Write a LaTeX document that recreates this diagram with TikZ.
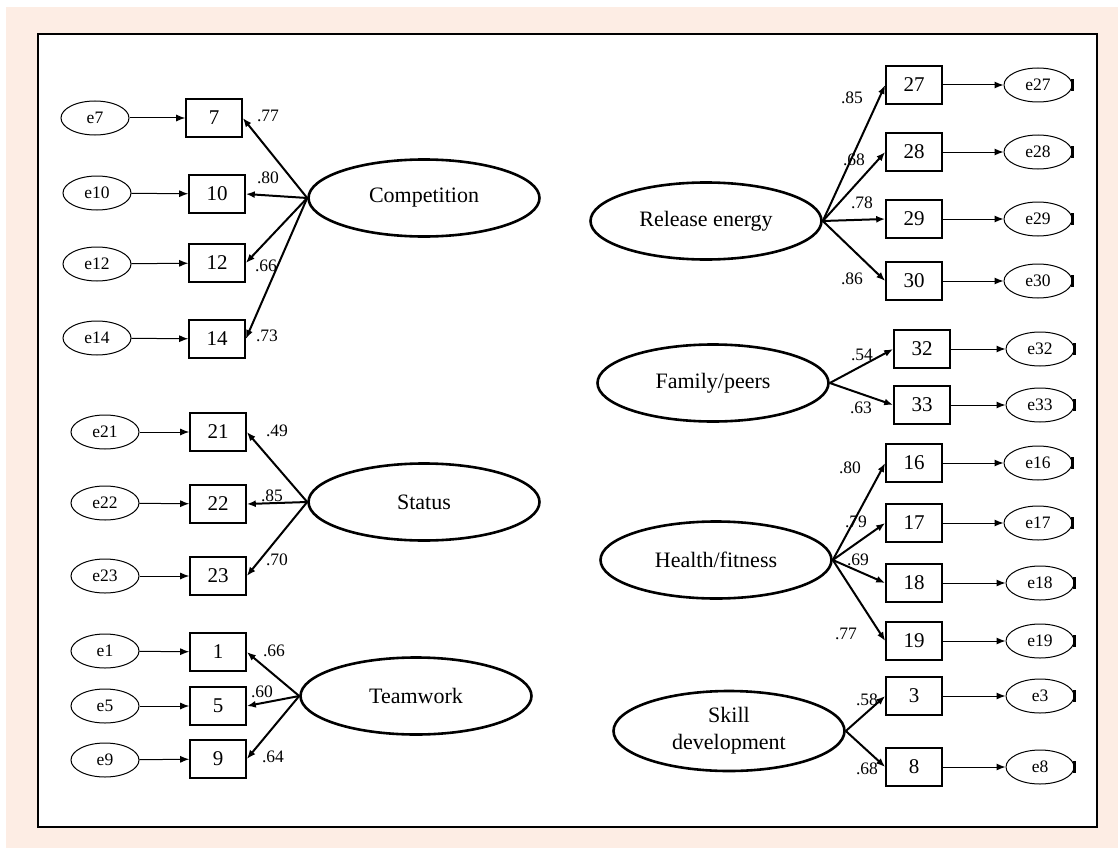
\documentclass[tikz,border=0pt]{standalone}
\usepackage{fontspec}
\setmainfont{Liberation Serif}
\usetikzlibrary{shapes.geometric,arrows.meta}
\definecolor{peach}{RGB}{253,237,228}

\tikzstyle{item}=[draw,line width=1.6pt,minimum width=56pt,minimum height=38pt,inner sep=0pt,font=\fontsize{21}{24}\selectfont]
\tikzstyle{err}=[draw,ellipse,line width=1pt,minimum width=68pt,minimum height=34pt,inner sep=0pt,font=\fontsize{17.5}{20}\selectfont]
\tikzstyle{factor}=[draw,ellipse,line width=2.6pt,minimum width=231pt,minimum height=77pt,inner sep=0pt,align=center,font=\fontsize{22}{27}\selectfont]
\tikzstyle{load}=[line width=2pt,-{Latex[length=9pt,width=7pt]}]
\tikzstyle{res}=[line width=1pt,-{Latex[length=9pt,width=7pt]}]
\tikzstyle{coef}=[inner sep=0pt,font=\fontsize{17.5}{19}\selectfont]
\tikzstyle{stub}=[line width=2.4pt]

\begin{document}
\begin{tikzpicture}[x=1pt,y=-1pt]
    \useasboundingbox (0,0) rectangle (1118,848);
    \fill[white] (0,0) rectangle (1118,848);
    \fill[peach] (6,7) rectangle (1118,848);
    \draw[line width=2.4pt,fill=white] (38,34) rectangle (1097,827);

    % left side
    \node (comp)[factor] at (424,198) {Competition};
    \node (v7)[item] at (214,118) {7};
    \node (v10)[item] at (217,194) {10};
    \node (v12)[item] at (217,263) {12};
    \node (v14)[item] at (217,339) {14};
    \node (e7)[err] at (95,118) {e7};
    \node (e10)[err] at (97,193) {e10};
    \node (e12)[err] at (97,264) {e12};
    \node (e14)[err] at (97,338) {e14};

    \node (stat)[factor] at (424,502) {Status};
    \node (v21)[item] at (218,432) {21};
    \node (v22)[item] at (218,504) {22};
    \node (v23)[item] at (218,576) {23};
    \node (e21)[err] at (105,432) {e21};
    \node (e22)[err] at (105,503) {e22};
    \node (e23)[err] at (105,576) {e23};

    \node (team)[factor] at (416,696) {Teamwork};
    \node (v1)[item] at (218,652) {1};
    \node (v5)[item] at (218,706) {5};
    \node (v9)[item] at (218,759) {9};
    \node (e1)[err] at (105,651) {e1};
    \node (e5)[err] at (105,706) {e5};
    \node (e9)[err] at (105,760) {e9};

    % right side
    \node (rel)[factor] at (706,221) {Release energy};
    \node (v27)[item] at (914,85) {27};
    \node (v28)[item] at (914,152) {28};
    \node (v29)[item] at (914,219) {29};
    \node (v30)[item] at (914,281) {30};
    \node (e27)[err] at (1038,85) {e27};
    \node (e28)[err] at (1038,152) {e28};
    \node (e29)[err] at (1038,219) {e29};
    \node (e30)[err] at (1038,281) {e30};

    \node (fam)[factor] at (713,383) {Family/peers};
    \node (v32)[item] at (922,349) {32};
    \node (v33)[item] at (922,405) {33};
    \node (e32)[err] at (1040,349) {e32};
    \node (e33)[err] at (1040,405) {e33};

    \node (heal)[factor] at (716,560) {Health/fitness};
    \node (v16)[item] at (914,463) {16};
    \node (v17)[item] at (914,523) {17};
    \node (v18)[item] at (914,583) {18};
    \node (v19)[item] at (914,641) {19};
    \node (e16)[err] at (1038,463) {e16};
    \node (e17)[err] at (1038,523) {e17};
    \node (e18)[err] at (1040,583) {e18};
    \node (e19)[err] at (1040,641) {e19};

    \node (skill)[factor,minimum height=80pt] at (729,731) {Skill\\development};
    \node (v3)[item] at (914,696) {3};
    \node (v8)[item] at (914,767) {8};
    \node (e3)[err] at (1040,696) {e3};
    \node (e8)[err] at (1040,767) {e8};

    \draw[load] (comp.west) -- (v7.east);
    \draw[load] (comp.west) -- (v10.east);
    \draw[load] (comp.west) -- (v12.east);
    \draw[load] (comp.west) -- (v14.east);
    \draw[load] (stat.west) -- (v21.east);
    \draw[load] (stat.west) -- (v22.east);
    \draw[load] (stat.west) -- (v23.east);
    \draw[load] (team.west) -- (v1.east);
    \draw[load] (team.west) -- (v5.east);
    \draw[load] (team.west) -- (v9.east);

    \draw[load] (rel.east) -- (v27.west);
    \draw[load] (rel.east) -- (v28.west);
    \draw[load] (rel.east) -- (v29.west);
    \draw[load] (rel.east) -- (v30.west);
    \draw[load] (fam.east) -- (v32.west);
    \draw[load] (fam.east) -- (v33.west);
    \draw[load] (heal.east) -- (v16.west);
    \draw[load] (heal.east) -- (v17.west);
    \draw[load] (heal.east) -- (v18.west);
    \draw[load] (heal.east) -- (v19.west);
    \draw[load] (skill.east) -- (v3.west);
    \draw[load] (skill.east) -- (v8.west);

    \foreach \n in {7,10,12,14,21,22,23,1,5,9}
        \draw[res] (e\n) -- (v\n);
    \foreach \n in {27,28,29,30,32,33,16,17,18,19,3,8} {
        \draw[res] (v\n) -- (e\n);
        \draw[stub] ([yshift=-6pt]e\n.east) -- ([yshift=6pt]e\n.east);
    }

    % loadings
    \node (l7)[coef] at (268,116) {.77};
    \node (l10)[coef] at (268,178) {.80};
    \node (l12)[coef] at (266,266) {.66};
    \node (l14)[coef] at (267,336) {.73};
    \node (l21)[coef] at (277,431) {.49};
    \node (l22)[coef] at (272,496) {.85};
    \node (l23)[coef] at (277,560) {.70};
    \node (l1)[coef] at (274,651) {.66};
    \node (l5)[coef] at (262,692) {.60};
    \node (l9)[coef] at (273,757) {.64};
    \node (l27)[coef] at (852,98) {.85};
    \node (l28)[coef] at (854,160) {.68};
    \node (l29)[coef] at (862,203) {.78};
    \node (l30)[coef] at (852,279) {.86};
    \node (l32)[coef] at (862,355) {.54};
    \node (l33)[coef] at (861,408) {.63};
    \node (l16)[coef] at (850,468) {.80};
    \node (l17)[coef] at (856,522) {.79};
    \node (l18)[coef] at (858,560) {.69};
    \node (l19)[coef] at (846,634) {.77};
    \node (l3)[coef] at (867,700) {.58};
    \node (l8)[coef] at (867,769) {.68};
\end{tikzpicture}
\end{document}
